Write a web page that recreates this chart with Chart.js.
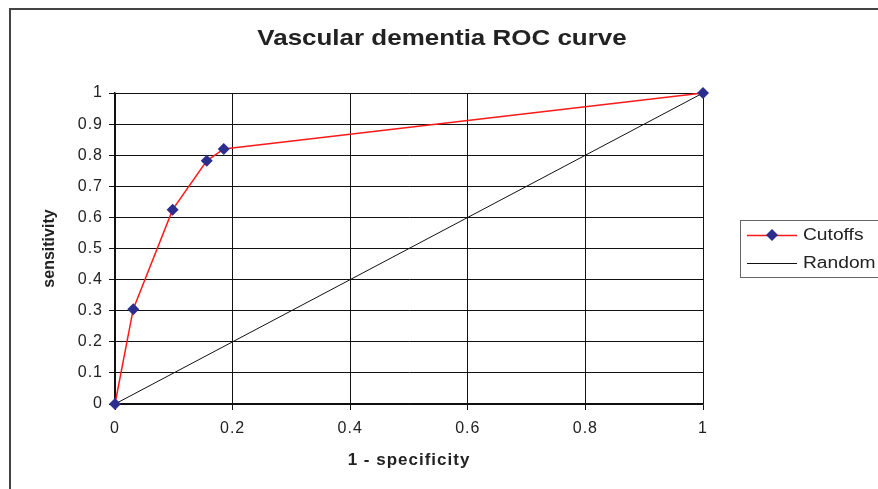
<!DOCTYPE html>
<html lang="en">
<head>
<meta charset="UTF-8" />
<title>Vascular dementia ROC curve</title>
<script src="https://cdn.jsdelivr.net/npm/chart.js"></script>
<style>
    html, body { margin: 0; padding: 0; background: #fff; }
    #wrap { width: 878px; height: 489px; position: relative; }
</style>
</head>
<body>
<div id="wrap"><canvas id="roc"></canvas></div>
<script>
    // values
    const cutoffX = [0, 0.031, 0.098, 0.156, 0.185, 1];
    const cutoffY = [0, 0.305, 0.625, 0.782, 0.82, 1];
    const randomX = [0, 1];
    const randomY = [0, 1];
    const seriesNames = ['Cutoffs', 'Random'];

    const FONT = 'Arial, "Liberation Sans", sans-serif';
    const ink = '#222';
    const fmt = v => String(+v.toFixed(1));

    // text in the original is stretched sideways; draw it a bit wider
    function wideText(ctx, text, x, y, sx) {
        ctx.save();
        ctx.translate(x, y);
        ctx.scale(sx, 1);
        ctx.fillText(text, 0, 0);
        ctx.restore();
    }

    // outer frame + title + legend (excel-ish look)
    const decor = {
        id: 'decor',
        beforeDraw(chart) {
            const ctx = chart.ctx;
            ctx.save();
            ctx.fillStyle = '#fff';
            ctx.fillRect(0, 0, chart.width, chart.height);
            ctx.restore();
            ctx.letterSpacing = '1px';
        },
        afterDraw(chart) {
            const ctx = chart.ctx;
            ctx.letterSpacing = '0px';
            ctx.save();
            ctx.strokeStyle = '#444';
            ctx.lineWidth = 2;
            ctx.strokeRect(10, 9, chart.width + 20, chart.height + 20);

            ctx.fillStyle = ink;
            ctx.font = 'bold 22px ' + FONT;
            ctx.textAlign = 'center';
            ctx.textBaseline = 'middle';
            wideText(ctx, 'Vascular dementia ROC curve', 442, 39, 1.18);

            // legend
            ctx.strokeStyle = '#666';
            ctx.lineWidth = 1;
            ctx.strokeRect(740.5, 220.5, 160, 57);
            const rows = [235, 263];
            chart.data.datasets.forEach((ds, i) => {
                const y = rows[i];
                ctx.strokeStyle = ds.borderColor;
                ctx.lineWidth = ds.borderWidth;
                ctx.beginPath();
                ctx.moveTo(747, y + 0.5);
                ctx.lineTo(797, y + 0.5);
                ctx.stroke();
                if (ds.pointRadius > 0) {
                    ctx.fillStyle = ds.pointBackgroundColor;
                    ctx.beginPath();
                    ctx.moveTo(772, y - 6);
                    ctx.lineTo(778, y);
                    ctx.lineTo(772, y + 6);
                    ctx.lineTo(766, y);
                    ctx.closePath();
                    ctx.fill();
                }
                ctx.fillStyle = ink;
                ctx.font = '16px ' + FONT;
                ctx.textAlign = 'left';
                wideText(ctx, ds.label, 803, y + 1, 1.2);
            });
            ctx.restore();
        }
    };

    // vertical title is not stretched, so draw it without the extra spacing
    function plainTitle(s) {
        if (s._plainTitle) return;
        s._plainTitle = true;
        const orig = s.drawTitle;
        s.drawTitle = function () {
            const ls = this.ctx.letterSpacing;
            this.ctx.letterSpacing = '0px';
            orig.call(this);
            this.ctx.letterSpacing = ls;
        };
    }

    new Chart(document.getElementById('roc').getContext('2d'), {
        type: 'scatter',
        data: {
            datasets: [
                {
                    label: seriesNames[0],
                    data: cutoffX.map((x, i) => ({ x, y: cutoffY[i] })),
                    showLine: true,
                    clip: false,
                    borderColor: '#ff1a1a',
                    borderWidth: 1.5,
                    pointStyle: 'rectRot',
                    pointRadius: 6,
                    pointBackgroundColor: '#2b2e8c',
                    pointBorderColor: '#2b2e8c',
                    pointBorderWidth: 0,
                    order: 0
                },
                {
                    label: seriesNames[1],
                    data: randomX.map((x, i) => ({ x, y: randomY[i] })),
                    showLine: true,
                    clip: false,
                    borderColor: '#111',
                    borderWidth: 1,
                    pointRadius: 0,
                    order: 1
                }
            ]
        },
        options: {
            responsive: true,
            maintainAspectRatio: false,
            animation: false,
            layout: { padding: { top: 93, right: 175, left: 0, bottom: 0 } },
            plugins: {
                legend: { display: false },
                tooltip: { enabled: false }
            },
            scales: {
                x: {
                    type: 'linear',
                    min: 0,
                    max: 1,
                    afterFit: s => { s.height = 85; },
                    ticks: {
                        stepSize: 0.2,
                        callback: fmt,
                        color: ink,
                        font: { family: FONT, size: 16 },
                        padding: 9,
                        maxRotation: 0
                    },
                    grid: { color: '#111', lineWidth: 1, tickLength: 6 },
                    border: { color: '#111', width: 1.5 },
                    title: {
                        display: true,
                        text: '1 - specificity',
                        color: ink,
                        font: { family: FONT, size: 17, weight: 'bold' },
                        padding: { bottom: 18 }
                    }
                },
                y: {
                    type: 'linear',
                    min: 0,
                    max: 1,
                    afterFit: s => { s.width = 115; plainTitle(s); },
                    ticks: {
                        stepSize: 0.1,
                        callback: fmt,
                        color: ink,
                        font: { family: FONT, size: 16 },
                        padding: 6
                    },
                    grid: { color: '#111', lineWidth: 1, tickLength: 6 },
                    border: { color: '#111', width: 1.5 },
                    title: {
                        display: true,
                        text: 'sensitivity',
                        color: ink,
                        font: { family: FONT, size: 16, weight: 'bold' },
                        padding: { top: 40 }
                    }
                }
            }
        },
        plugins: [decor]
    });
</script>
</body>
</html>
